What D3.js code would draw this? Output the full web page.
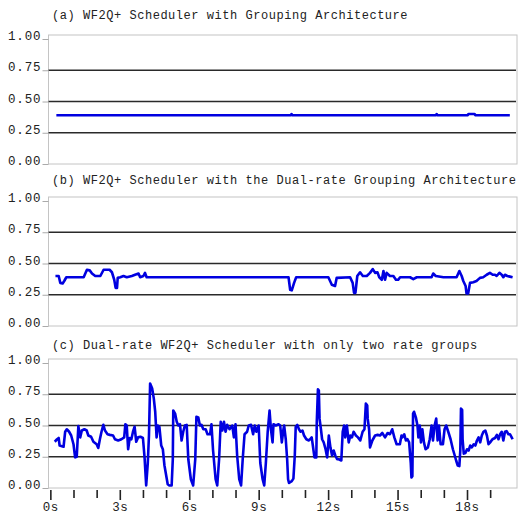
<!DOCTYPE html>
<html>
<head>
<meta charset="utf-8">
<script src="https://cdn.jsdelivr.net/npm/d3@7"></script>
<style>
    body { margin: 0; background: #fff; }
    text { font-family: "Liberation Mono", "DejaVu Sans Mono", monospace; fill: #222; }
</style>
</head>
<body>
<script>
(function(d3) {
    'use strict';

    // panel titles
    var titles = [
        '(a) WF2Q+ Scheduler with Grouping Architecture',
        '(b) WF2Q+ Scheduler with the Dual-rate Grouping Architecture',
        '(c) Dual-rate WF2Q+ Scheduler with only two rate groups'
    ];

    var yTicks = [0, 0.25, 0.5, 0.75, 1];
    var gridValues = [0.25, 0.5, 0.75];
    var xTicks = d3.range(0, 20);          // one tick a second
    var xLabels = [0, 3, 6, 9, 12, 15, 18]; // labelled ticks

    // [seconds, value]
    var seriesA = [
        [0.26, 0.39], [10.38, 0.39], [10.42, 0.40], [10.46, 0.39], [16.65, 0.39], [16.69, 0.40],
        [16.73, 0.39], [18.02, 0.39], [18.07, 0.40], [18.32, 0.40], [18.37, 0.39], [19.85, 0.39]
    ];

    var seriesB = [
        [0.22, 0.40], [0.36, 0.40], [0.43, 0.345], [0.53, 0.34], [0.60, 0.36], [0.69, 0.39], [1.44, 0.39],
        [1.58, 0.45], [1.70, 0.445], [1.80, 0.42], [1.94, 0.40], [2.16, 0.40], [2.30, 0.45], [2.56, 0.45],
        [2.66, 0.43], [2.76, 0.37], [2.82, 0.305], [2.88, 0.305], [2.91, 0.385], [3.02, 0.39], [3.16, 0.40],
        [3.30, 0.39], [3.52, 0.40], [3.66, 0.41], [3.81, 0.42], [3.88, 0.39], [4.02, 0.40], [4.09, 0.425],
        [4.16, 0.39], [10.29, 0.39], [10.36, 0.29], [10.43, 0.285], [10.53, 0.345], [10.62, 0.39],
        [12.01, 0.39], [12.16, 0.33], [12.30, 0.32], [12.37, 0.385], [12.95, 0.39], [13.06, 0.345],
        [13.12, 0.265], [13.18, 0.265], [13.26, 0.40], [13.38, 0.43], [13.50, 0.40], [13.67, 0.40],
        [13.81, 0.425], [13.93, 0.455], [14.03, 0.425], [14.13, 0.43], [14.21, 0.39], [14.32, 0.37],
        [14.39, 0.44], [14.46, 0.37], [14.53, 0.425], [14.67, 0.40], [14.82, 0.40], [14.93, 0.37],
        [15.03, 0.37], [15.11, 0.39], [15.54, 0.39], [15.68, 0.375], [15.83, 0.39], [16.47, 0.39],
        [16.54, 0.42], [16.65, 0.40], [16.98, 0.39], [17.55, 0.39], [17.67, 0.44], [17.77, 0.40],
        [17.84, 0.36], [17.94, 0.32], [17.98, 0.26], [18.05, 0.26], [18.13, 0.345], [18.27, 0.35],
        [18.41, 0.36], [18.56, 0.385], [18.70, 0.39], [18.85, 0.41], [18.99, 0.425], [19.11, 0.41],
        [19.21, 0.41], [19.28, 0.40], [19.40, 0.425], [19.50, 0.41], [19.57, 0.39], [19.64, 0.41],
        [19.74, 0.40], [19.85, 0.395], [19.97, 0.39]
    ];

    var seriesC = [
        [0.19, 0.37], [0.29, 0.39], [0.36, 0.40], [0.40, 0.34], [0.57, 0.33], [0.64, 0.45], [0.71, 0.47],
        [0.81, 0.45], [0.90, 0.42], [1.00, 0.35], [1.07, 0.245], [1.14, 0.25], [1.21, 0.495], [1.29, 0.405],
        [1.36, 0.46], [1.47, 0.47], [1.57, 0.46], [1.64, 0.42], [1.76, 0.41], [1.86, 0.37], [2.00, 0.35],
        [2.07, 0.32], [2.14, 0.39], [2.21, 0.45], [2.29, 0.505], [2.36, 0.46], [2.47, 0.43], [2.57, 0.425],
        [2.71, 0.42], [2.79, 0.39], [2.93, 0.38], [3.07, 0.39], [3.19, 0.405], [3.24, 0.51], [3.30, 0.50],
        [3.36, 0.31], [3.43, 0.40], [3.50, 0.39], [3.57, 0.45], [3.64, 0.49], [3.71, 0.37], [3.79, 0.405],
        [3.89, 0.41], [4.00, 0.40], [4.07, 0.245], [4.14, 0.02], [4.21, 0.20], [4.26, 0.42], [4.31, 0.835],
        [4.40, 0.795], [4.47, 0.715], [4.53, 0.61], [4.59, 0.405], [4.64, 0.50], [4.71, 0.49], [4.79, 0.34],
        [4.86, 0.31], [4.93, 0.18], [5.07, 0.03],
        [5.14, 0.02], [5.24, 0.02], [5.29, 0.23], [5.31, 0.62], [5.39, 0.595], [5.46, 0.53], [5.53, 0.50],
        [5.60, 0.51], [5.67, 0.38], [5.74, 0.45], [5.81, 0.50], [5.89, 0.505], [5.96, 0.23], [6.07, 0.07],
        [6.17, 0.02], [6.26, 0.23], [6.31, 0.57], [6.39, 0.565], [6.46, 0.50], [6.53, 0.505], [6.61, 0.47],
        [6.71, 0.47], [6.79, 0.43], [6.90, 0.43], [6.96, 0.51], [7.03, 0.30], [7.14, 0.07], [7.21, 0.02],
        [7.29, 0.23], [7.36, 0.53], [7.43, 0.46], [7.50, 0.53], [7.57, 0.45], [7.64, 0.505], [7.74, 0.47],
        [7.86, 0.50], [7.93, 0.405], [8.00, 0.51], [8.07, 0.26], [8.16, 0.07], [8.24, 0.02], [8.31, 0.23],
        [8.39, 0.43], [8.50, 0.45], [8.57, 0.50], [8.67, 0.505], [8.76, 0.43], [8.83, 0.50], [8.90, 0.45],
        [9.00, 0.50], [9.07, 0.20], [9.17, 0.07], [9.24, 0.02], [9.31, 0.20], [9.39, 0.45], [9.47, 0.62],
        [9.53, 0.47], [9.60, 0.365], [9.64, 0.51], [9.74, 0.50], [9.86, 0.51], [9.93, 0.50], [10.00, 0.365],
        [10.07, 0.47],
        [10.10, 0.50], [10.17, 0.39], [10.23, 0.23], [10.27, 0.07], [10.31, 0.04], [10.43, 0.055],
        [10.50, 0.075], [10.56, 0.26], [10.60, 0.49], [10.67, 0.505], [10.74, 0.47], [10.81, 0.45],
        [10.89, 0.46], [10.96, 0.42], [11.06, 0.39], [11.17, 0.38], [11.29, 0.405], [11.34, 0.34],
        [11.41, 0.245], [11.49, 0.245], [11.51, 0.53], [11.56, 0.79], [11.60, 0.78], [11.63, 0.555],
        [11.69, 0.47], [11.74, 0.39], [11.81, 0.365], [11.89, 0.31], [11.96, 0.245], [12.03, 0.42],
        [12.10, 0.325], [12.17, 0.26], [12.24, 0.30], [12.31, 0.26], [12.39, 0.23], [12.46, 0.23],
        [12.57, 0.22], [12.63, 0.45], [12.69, 0.50], [12.74, 0.405], [12.81, 0.50], [12.89, 0.365],
        [12.96, 0.42], [13.03, 0.405], [13.10, 0.45], [13.20, 0.42], [13.29, 0.405], [13.39, 0.38],
        [13.49, 0.45], [13.57, 0.47], [13.63, 0.675], [13.69, 0.66], [13.71, 0.555], [13.77, 0.47],
        [13.81, 0.325], [13.91, 0.38], [14.03, 0.42], [14.14, 0.425], [14.24, 0.42], [14.34, 0.44],
        [14.46, 0.405], [14.57, 0.44], [14.67, 0.43], [14.77, 0.47], [14.86, 0.405], [14.96, 0.35],
        [15.10, 0.35],
        [15.17, 0.42], [15.21, 0.405], [15.29, 0.43], [15.36, 0.38], [15.43, 0.39], [15.50, 0.365],
        [15.57, 0.20], [15.60, 0.085], [15.64, 0.095], [15.67, 0.595], [15.71, 0.61], [15.79, 0.565],
        [15.86, 0.50], [15.90, 0.405], [15.96, 0.50], [16.01, 0.365], [16.07, 0.47], [16.14, 0.365],
        [16.21, 0.31], [16.31, 0.325], [16.39, 0.39], [16.47, 0.50], [16.53, 0.38], [16.60, 0.50],
        [16.67, 0.555], [16.73, 0.38], [16.79, 0.50], [16.86, 0.35], [16.96, 0.35], [17.03, 0.47],
        [17.10, 0.50], [17.19, 0.45], [17.29, 0.39], [17.39, 0.31], [17.47, 0.26], [17.53, 0.22],
        [17.60, 0.18], [17.67, 0.175], [17.71, 0.30], [17.74, 0.635], [17.79, 0.625], [17.81, 0.39],
        [17.86, 0.275], [17.93, 0.28], [18.00, 0.31], [18.07, 0.30], [18.14, 0.34], [18.21, 0.325],
        [18.29, 0.35], [18.36, 0.34], [18.43, 0.38], [18.50, 0.405], [18.57, 0.365], [18.64, 0.42],
        [18.71, 0.45], [18.79, 0.46], [18.86, 0.42], [18.93, 0.35], [19.00, 0.365], [19.10, 0.39],
        [19.21, 0.40], [19.29, 0.425], [19.36, 0.39], [19.43, 0.43], [19.50, 0.45], [19.57, 0.38],
        [19.64, 0.45], [19.71, 0.455], [19.79, 0.43], [19.86, 0.43], [19.93, 0.405], [19.97, 0.39]
    ];

    var settings = {
        width: 523,
        height: 519,
        left: 48.5,
        right: 517,
        panelHeight: 129,
        // top edge of each plot box and centre of its title
        panelTops: [35, 197, 359],
        titleY: [15, 180, 345],
        lineColor: '#0000e0'
    };

    var series = [seriesA, seriesB, seriesC];

    var svg = d3.select('body')
        .append('svg')
        .attr('width', settings.width)
        .attr('height', settings.height);

    var x = d3.scaleLinear()
        .domain([-0.08, 20.16])
        .range([settings.left, settings.right]);

    series.forEach(function(data, i) {
        var top = settings.panelTops[i];
        var bottom = top + settings.panelHeight;

        var y = d3.scaleLinear()
            .domain([0, 1.032])
            .range([bottom, top]);

        var g = svg.append('g').attr('class', 'panel');

        g.append('text')
            .attr('x', 52)
            .attr('y', settings.titleY[i])
            .attr('dy', '0.35em')
            .style('font-size', '12px')
            .style('letter-spacing', '0.54px')
            .text(titles[i]);

        // plot frame
        g.append('rect')
            .attr('x', settings.left)
            .attr('y', top)
            .attr('width', settings.right - settings.left)
            .attr('height', settings.panelHeight)
            .attr('fill', 'none')
            .attr('stroke', '#c4c4c4')
            .attr('stroke-width', 1);

        g.selectAll('line.grid')
            .data(gridValues)
            .enter()
            .append('line')
            .attr('class', 'grid')
            .attr('x1', settings.left)
            .attr('x2', settings.right - 1)
            .attr('y1', function(d) { return y(d); })
            .attr('y2', function(d) { return y(d); })
            .attr('stroke', '#2a2a2a')
            .attr('stroke-width', 1.6);

        var yAxis = d3.axisLeft(y)
            .tickValues(yTicks)
            .tickSize(6)
            .tickPadding(1)
            .tickFormat(d3.format('.2f'));

        var ya = g.append('g')
            .attr('transform', 'translate(' + settings.left + ',0)')
            .call(yAxis);
        ya.select('.domain').remove();
        ya.selectAll('.tick line').attr('stroke', '#aaa');
        ya.selectAll('.tick text')
            .attr('dy', '0.05em')
            .style('font-size', '12.5px')
            .style('letter-spacing', '0.9px')
            .attr('fill', '#222');

        var line = d3.line()
            .x(function(d) { return x(d[0]); })
            .y(function(d) { return y(d[1]); });

        g.append('path')
            .datum(data)
            .attr('d', line)
            .attr('fill', 'none')
            .attr('stroke', settings.lineColor)
            .attr('stroke-width', 2.6)
            .attr('stroke-linejoin', 'round');

        if (i === 2) {
            var xAxis = d3.axisBottom(x)
                .tickValues(xTicks)
                .tickSize(8)
                .tickPadding(4)
                .tickFormat(function(d) { return xLabels.indexOf(d) >= 0 ? d + 's' : ''; });

            var xa = g.append('g')
                .attr('transform', 'translate(0,' + (bottom + 2) + ')')
                .call(xAxis);
            xa.select('.domain').remove();
            xa.selectAll('.tick line')
                .attr('stroke', '#222')
                .attr('stroke-width', 1.6)
                .attr('y2', function(d) { return xLabels.indexOf(d) >= 0 ? 10 : 8; });
            xa.selectAll('.tick text')
                .style('font-size', '12.5px')
                .style('letter-spacing', '0.6px')
                .attr('fill', '#222');
        }
    });

    console.log('points: ', seriesA.length, seriesB.length, seriesC.length);

})(window.d3);
</script>
</body>
</html>
